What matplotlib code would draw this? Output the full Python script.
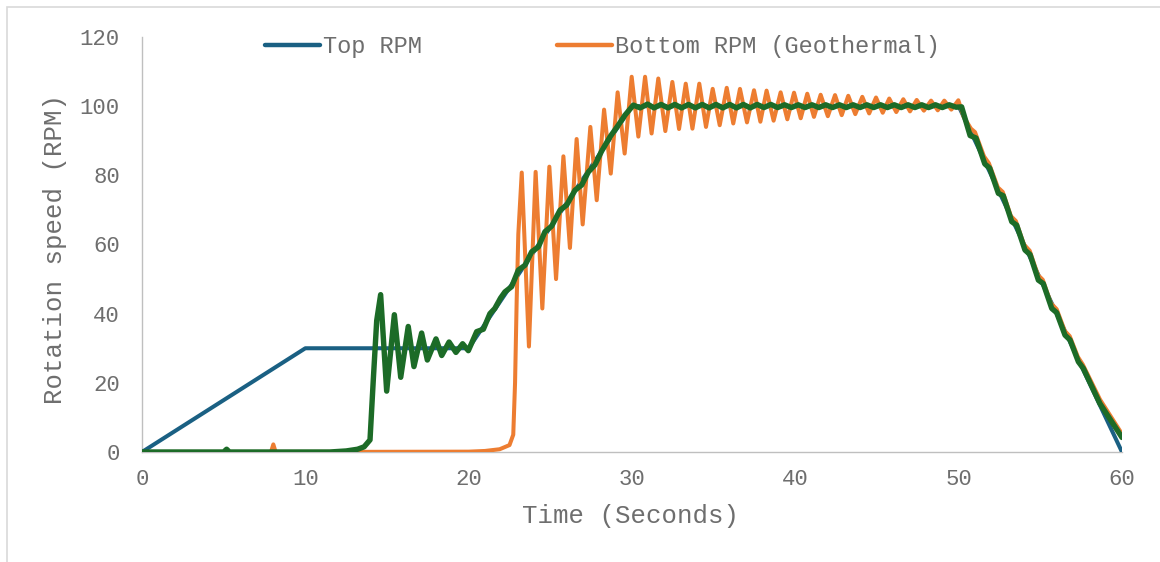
import matplotlib
matplotlib.use("Agg")
import matplotlib.pyplot as plt
from matplotlib.patches import Rectangle

# ---------------- data ----------------
top_t = [0, 10, 20, 30, 50, 60]
top_rpm = [0, 30, 30, 100, 100, 0]

bottom_t = [0, 7.9, 8.04, 8.18, 20.0, 21.0, 21.9, 22.5, 22.73, 22.84, 22.94, 23.04,
            23.25, 23.69, 24.10, 24.51, 24.94, 25.35, 25.80, 26.20, 26.61, 26.98,
            27.45, 27.84, 28.29, 28.70, 29.12, 29.55, 29.98, 30.39, 30.80, 31.20,
            31.61, 32.04, 32.47, 32.88, 33.29, 33.70, 34.12, 34.53, 34.94, 35.37,
            35.80, 36.20, 36.61, 37.04, 37.47, 37.86, 38.24, 38.67, 39.10, 39.51,
            39.92, 40.33, 40.73, 41.14, 41.55, 41.99, 42.43, 42.84, 43.24, 43.67,
            44.10, 44.52, 44.94, 45.35, 45.75, 46.18, 46.61, 47.02, 47.43, 47.87,
            48.31, 48.72, 49.12, 49.55, 49.98,
            50.3, 50.75, 51.0, 51.55, 51.85, 52.4, 52.7, 53.2, 53.5, 54.0, 54.35,
            54.85, 55.15, 55.65, 56.0, 56.5, 56.8, 57.3, 57.6, 58.65, 60.0]
bottom_rpm = [0, 0, 2.2, 0, 0.1, 0.3, 0.8, 2.0, 5.0, 20, 44, 63,
              80.8, 30.5, 81.0, 41.5, 82.5, 50.0, 85.5, 59.0, 90.5, 65.8,
              94.0, 72.8, 99.0, 80.5, 104.0, 86.3, 108.5, 91.2, 108.5, 92.1,
              108.0, 92.8, 107.0, 93.4, 106.5, 93.5, 106.5, 94.0, 105.0, 94.5,
              105.3, 95.0, 105.0, 95.3, 104.6, 95.5, 104.5, 95.8, 104.0, 96.2,
              103.9, 96.5, 103.6, 96.9, 103.3, 97.1, 103.2, 97.4, 103.0, 97.7,
              102.7, 97.9, 102.5, 98.1, 102.2, 98.3, 102.0, 98.5, 101.8, 98.7,
              101.6, 98.8, 101.6, 99.0, 101.7,
              97.0, 93.5, 92.5, 85.5, 83.5, 76.5, 75.2, 68.2, 66.8, 60.0, 58.2,
              51.2, 49.8, 43.0, 41.3, 35.0, 33.5, 27.5, 25.3, 15.2, 5.2]

green_t = [0, 5.0, 5.18, 5.35, 11.5, 12.5, 13.2, 13.6, 13.96, 14.16, 14.37,
           14.61, 14.98, 15.45, 15.84, 16.30, 16.65, 17.12, 17.47, 18.00, 18.35,
           18.80, 19.22, 19.63, 19.98, 20.49, 20.90, 21.30, 21.60, 21.95, 22.22,
           22.63, 23.04, 23.45, 23.86, 24.27, 24.67, 25.08, 25.59, 26.00, 26.51,
           26.92, 27.33, 27.73, 28.14, 28.65, 29.16, 29.57, 30.08,
           30.50, 30.95, 31.35, 31.78, 32.20, 32.62, 33.04, 33.46, 33.88, 34.30,
           34.72, 35.14, 35.56, 35.98, 36.40, 36.82, 37.24, 37.66, 38.08, 38.50,
           38.92, 39.34, 39.76, 40.18, 40.60, 41.02, 41.44, 41.86, 42.28, 42.70,
           43.12, 43.54, 43.96, 44.38, 44.80, 45.22, 45.64, 46.06, 46.48, 46.90,
           47.32, 47.74, 48.16, 48.58, 49.00, 49.42, 49.84,
           50.18, 50.70, 51.06, 51.60, 51.90, 52.43, 52.73, 53.25, 53.55, 54.06,
           54.37, 54.88, 55.18, 55.70, 56.00, 56.51, 56.82, 57.33, 57.63, 58.65,
           60.0]
green_rpm = [0, 0, 0.8, 0, 0, 0.3, 0.8, 1.5, 3.5, 20.8, 38.0,
             45.5, 17.6, 39.7, 21.6, 36.3, 24.7, 34.4, 26.6, 32.7, 27.9,
             31.8, 28.8, 31.3, 29.3, 34.8, 35.5, 40.0, 41.5, 44.5, 46.3,
             47.8, 52.6, 54.0, 57.9, 59.3, 63.7, 65.3, 69.9, 71.4, 75.7,
             77.2, 81.0, 83.0, 87.0, 91.1, 94.5, 97.4, 100.3,
             99.5, 100.6, 99.5, 100.5, 99.5, 100.5, 99.5, 100.5, 99.5, 100.5,
             99.5, 100.5, 99.5, 100.5, 99.5, 100.5, 99.5, 100.5, 99.6, 100.5,
             99.6, 100.4, 99.6, 100.4, 99.6, 100.4, 99.6, 100.4, 99.6, 100.4,
             99.6, 100.4, 99.6, 100.4, 99.6, 100.4, 99.6, 100.4, 99.6, 100.4,
             99.6, 100.4, 99.6, 100.4, 99.6, 100.4, 99.7,
             99.8, 91.5, 90.8, 83.3, 82.1, 74.8, 74.1, 66.6, 65.6, 58.4,
             57.1, 49.7, 48.7, 41.5, 40.3, 33.8, 32.4, 26.1, 24.2, 14.0,
             4.2]

x_ticks = [0, 10, 20, 30, 40, 50, 60]
y_ticks = [0, 20, 40, 60, 80, 100, 120]

# ---------------- styling ----------------
FONT = ["Liberation Mono", "DejaVu Sans Mono"]
TXT = "#6E6E6E"
AX = "#BFBFBF"
BLUE = "#1A6083"
ORANGE = "#ED7D31"
GREEN = "#1C6B27"

plt.rcParams["font.family"] = FONT

W, H = 1160, 562
fig = plt.figure(figsize=(W / 100, H / 100), dpi=100)
L, R, T, B = 142, 1122, 37, 452
ax = fig.add_axes([L / W, 1 - B / H, (R - L) / W, (B - T) / H])

ax.plot(top_t, top_rpm, color=BLUE, lw=2.9, solid_joinstyle="round",
        solid_capstyle="round", label="Top RPM", zorder=3)
ax.plot(bottom_t, bottom_rpm, color=ORANGE, lw=2.9, solid_joinstyle="round",
        solid_capstyle="round", label="Bottom RPM (Geothermal)", zorder=4)
ax.plot(green_t, green_rpm, color=GREEN, lw=3.9, solid_joinstyle="round",
        solid_capstyle="round", zorder=5)

ax.set_xlim(0, 60)
ax.set_ylim(0, 120)
ax.set_xticks(x_ticks)
ax.set_yticks(y_ticks)
ax.set_xticklabels([str(v) for v in x_ticks])
ax.set_yticklabels([str(v) for v in y_ticks])

for s in ["top", "right"]:
    ax.spines[s].set_visible(False)
for s in ["left", "bottom"]:
    ax.spines[s].set_color(AX)
    ax.spines[s].set_linewidth(1.0)
ax.spines["left"].set_zorder(1)
ax.spines["bottom"].set_zorder(1)

ax.tick_params(axis="both", length=0, labelsize=16, labelcolor=TXT)
ax.tick_params(axis="y", pad=16)
ax.tick_params(axis="x", pad=12)

ax.set_xlabel("Time (Seconds)", fontsize=18.5, color=TXT, va="center")
ax.xaxis.set_label_coords(0.4985, (B - 516) / (B - T))
ax.set_ylabel("Rotation speed (RPM)", fontsize=18.5, color=TXT, va="center")
ax.yaxis.set_label_coords((55 - L) / (R - L), (B - 248.5) / (B - T))

leg = fig.legend(loc="center", bbox_to_anchor=(602.5 / W, 1 - 47 / H), ncol=2,
                 frameon=False, fontsize=17, handlelength=2.32,
                 handletextpad=0.13, columnspacing=5.74, borderpad=0,
                 borderaxespad=0)
for t in leg.get_texts():
    t.set_color(TXT)
for h in leg.get_lines():
    h.set_linewidth(3.2)
    h.set_solid_capstyle("round")

# chart-area border (visible at top and left only)
fig.add_artist(Rectangle((7 / W, -0.5), 1.5, 1.5 - 7 / H,
                         transform=fig.transFigure, fill=False,
                         edgecolor="#D9D9D9", lw=1.2))

fig.savefig("out.png", dpi=100, facecolor="white")
